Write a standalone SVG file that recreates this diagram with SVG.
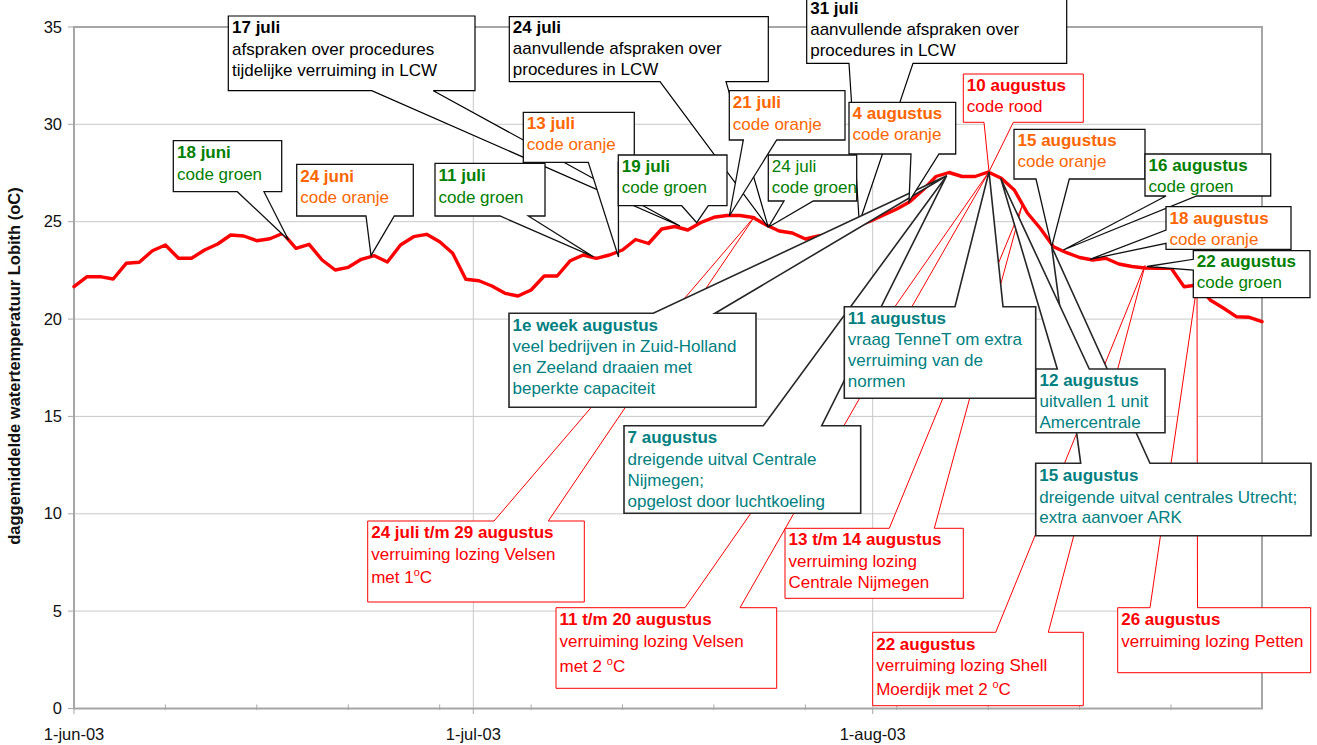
<svg xmlns="http://www.w3.org/2000/svg" width="1317" height="745" viewBox="0 0 1317 745">
<style>
.grid{stroke:#c8c8c8;stroke-width:1;fill:none}
.axis{stroke:#a6a6a6;stroke-width:2;fill:none}
.tick{stroke:#a6a6a6;stroke-width:1}
.lbl{font-family:"Liberation Sans",Arial,sans-serif;font-size:16.5px;fill:#111}
.data{fill:none;stroke:#ff0000;stroke-width:3.4;stroke-linejoin:round;stroke-linecap:round}
.cb{fill:#fff;stroke:#000;stroke-width:1.2;stroke-linejoin:miter}
.cc{fill:#fff;stroke:#111;stroke-width:1.3;stroke-linejoin:miter}
.ct{fill:#fff;stroke:#262626;stroke-width:1.6;stroke-linejoin:miter}
.cr{fill:#fff;stroke:#ff0000;stroke-width:1;stroke-linejoin:miter}
.t{font-family:"Liberation Sans",Arial,sans-serif;font-size:17px}
.b{font-weight:bold}
.k{fill:#000}.g{fill:#008000}.o{fill:#ff6600}.r{fill:#ff0000}.te{fill:#008080}
.sup{font-size:11px}
</style>

<g id="axes">
  <g class="grid">
    <line x1="74" y1="611.1" x2="1262" y2="611.1"/>
    <line x1="74" y1="513.8" x2="1262" y2="513.8"/>
    <line x1="74" y1="416.4" x2="1262" y2="416.4"/>
    <line x1="74" y1="319.1" x2="1262" y2="319.1"/>
    <line x1="74" y1="221.7" x2="1262" y2="221.7"/>
    <line x1="74" y1="124.3" x2="1262" y2="124.3"/>
    <line x1="473.3" y1="27" x2="473.3" y2="708.5"/>
    <line x1="872.7" y1="27" x2="872.7" y2="708.5"/>
  </g>
  <rect class="axis" x="74" y="27" width="1188" height="681.5"/>
  <g class="tick">
    <line x1="68" y1="708.5" x2="74" y2="708.5"/>
    <line x1="68" y1="611.1" x2="74" y2="611.1"/>
    <line x1="68" y1="513.8" x2="74" y2="513.8"/>
    <line x1="68" y1="416.4" x2="74" y2="416.4"/>
    <line x1="68" y1="319.1" x2="74" y2="319.1"/>
    <line x1="68" y1="221.7" x2="74" y2="221.7"/>
    <line x1="68" y1="124.3" x2="74" y2="124.3"/>
    <line x1="68" y1="27" x2="74" y2="27"/>
    <line x1="74" y1="708" x2="74" y2="714"/>
    <line x1="473.3" y1="708" x2="473.3" y2="714"/>
    <line x1="872.7" y1="708" x2="872.7" y2="714"/>
    <line x1="165.4" y1="704.5" x2="165.4" y2="710"/>
    <line x1="256.8" y1="704.5" x2="256.8" y2="710"/>
    <line x1="348.3" y1="704.5" x2="348.3" y2="710"/>
    <line x1="439.7" y1="704.5" x2="439.7" y2="710"/>
    <line x1="531.1" y1="704.5" x2="531.1" y2="710"/>
    <line x1="622.5" y1="704.5" x2="622.5" y2="710"/>
    <line x1="713.9" y1="704.5" x2="713.9" y2="710"/>
    <line x1="805.4" y1="704.5" x2="805.4" y2="710"/>
    <line x1="896.8" y1="704.5" x2="896.8" y2="710"/>
    <line x1="988.2" y1="704.5" x2="988.2" y2="710"/>
    <line x1="1079.6" y1="704.5" x2="1079.6" y2="710"/>
    <line x1="1171" y1="704.5" x2="1171" y2="710"/>
  </g>
  <g class="lbl" text-anchor="end">
    <text x="62" y="714">0</text>
    <text x="62" y="616.6">5</text>
    <text x="62" y="519.3">10</text>
    <text x="62" y="421.9">15</text>
    <text x="62" y="324.6">20</text>
    <text x="62" y="227.2">25</text>
    <text x="62" y="129.8">30</text>
    <text x="62" y="32.5">35</text>
  </g>
  <g class="lbl" text-anchor="middle">
    <text x="74" y="739.5">1-jun-03</text>
    <text x="473.3" y="739.5">1-jul-03</text>
    <text x="872.7" y="739.5">1-aug-03</text>
  </g>
  <text class="lbl" font-weight="bold" font-size="17" text-anchor="middle" transform="translate(19.7,366) rotate(-90)">daggemiddelde watertemperatuur Lobith (oC)</text>
</g>

<g id="series">
  <polyline class="data" points="74,286.7 87.1,276.7 100.1,276.7 113.2,279 126.2,263.3 139.3,262.3 152.4,250.7 165.4,245 178.5,258.3 191.5,258.3 204.6,250 217.7,244 230.7,235 243.8,236 256.8,240.7 269.9,238.7 283,233.3 296,248.3 309.1,244.3 322.1,260 335.2,270 348.3,267.3 361.3,259.3 374.4,255.7 387.4,262 400.5,245 413.6,236.7 426.6,234.3 439.7,241.7 452.7,253.3 465.8,279.3 478.9,280.7 491.9,286 505,293.3 518,296 531.1,290 544.2,276 557.2,276 570.3,260.7 583.3,255 596.4,258.3 609.5,255 622.5,250 635.6,239.5 648.6,243.5 661.7,229 674.8,226.5 687.8,230 700.9,222.5 713.9,217.3 727,215.5 740.1,215.5 753.1,217.5 766.2,225 779.2,231 792.3,233 805.4,239 818.4,236 831.5,234 844.5,231 857.6,226 870.7,221 883.7,215 896.8,209 909.8,201.7 922.9,190 936,176.5 949,172.5 962.1,176.5 975.1,176.5 988.2,172 1001.3,178.3 1014.3,190 1027.4,213 1040.4,228.5 1053.5,246.7 1066.6,252.7 1079.6,257.5 1092.7,260 1105.7,258.3 1118.8,264 1131.9,266.5 1144.9,268 1158,268.3 1171,268 1184.1,286.7 1197.2,285 1210.2,300 1223.3,308 1236.3,316.7 1249.4,317.3 1262,321.7"/>
</g>

<g id="connectors"></g>

<g id="c-17juli">
  <path class="cb" d="M228.3,16 H475 V90.7 H433.3 L680,226 L371.7,90.7 H228.3 Z"/>
  <text class="t k" x="232" y="33.3"><tspan class="b">17 juli</tspan><tspan x="232" y="54.7">afspraken over procedures</tspan><tspan x="232" y="76">tijdelijke verruiming in LCW</tspan></text>
</g>
<g id="c-24juli-lcw">
  <path class="cb" d="M509.3,16.7 H768.3 V81.7 H726 L768.3,227.3 L660,81.7 H509.3 Z"/>
  <text class="t k" x="512.8" y="33.3"><tspan class="b">24 juli</tspan><tspan x="512.8" y="54.3">aanvullende afspraken over</tspan><tspan x="512.8" y="75.3">procedures in LCW</tspan></text>
</g>
<g id="c-31juli">
  <path class="cb" d="M806.7,-4 H1066.7 V63.3 H913 L859.3,222.7 L849,63.3 H806.7 Z"/>
  <text class="t k" x="810.2" y="13.5"><tspan class="b">31 juli</tspan><tspan x="810.2" y="34.5">aanvullende afspraken over</tspan><tspan x="810.2" y="55.5">procedures in LCW</tspan></text>
</g>

<g id="c-velsen1">
  <path class="cr" d="M367.7,521 H494 L755,216 L548.3,521 H584.3 V602 H367.7 Z"/>
  <text class="t r" x="371.2" y="538.3"><tspan class="b">24 juli t/m 29 augustus</tspan><tspan x="371.2" y="560">verruiming lozing Velsen</tspan><tspan x="371.2" y="583.3">met 1</tspan><tspan class="sup" dy="-7">o</tspan><tspan dy="7">C</tspan></text>
</g>
<g id="c-velsen2">
  <path class="cr" d="M556,607.7 H685 L989,171.7 L740,607.7 H776.7 V688.3 H556 Z"/>
  <text class="t r" x="559.5" y="625"><tspan class="b">11 t/m 20 augustus</tspan><tspan x="559.5" y="646.7">verruiming lozing Velsen</tspan><tspan x="559.5" y="671.7">met 2 </tspan><tspan class="sup" dy="-7">o</tspan><tspan dy="7">C</tspan></text>
</g>
<g id="c-nijmegen">
  <path class="cr" d="M785,528.3 H889.3 L1022,206 L934.3,528.3 H963.3 V598.3 H785 Z"/>
  <text class="t r" x="788.5" y="545.3"><tspan class="b">13 t/m 14 augustus</tspan><tspan x="788.5" y="566.7">verruiming lozing</tspan><tspan x="788.5" y="587.5">Centrale Nijmegen</tspan></text>
</g>
<g id="c-shell">
  <path class="cr" d="M872.7,632.3 H995.7 L1145,265.5 L1048.3,632.3 H1083.3 V705.7 H872.7 Z"/>
  <text class="t r" x="876.2" y="650"><tspan class="b">22 augustus</tspan><tspan x="876.2" y="671">verruiming lozing Shell</tspan><tspan x="876.2" y="695">Moerdijk met 2 </tspan><tspan class="sup" dy="-7">o</tspan><tspan dy="7">C</tspan></text>
</g>
<g id="c-petten">
  <path class="cr" d="M1117.7,607.7 H1150 L1197,285 L1197.5,607.7 H1310.7 V672.7 H1117.7 Z"/>
  <text class="t r" x="1121.2" y="625"><tspan class="b">26 augustus</tspan><tspan x="1121.2" y="646.7">verruiming lozing Petten</tspan></text>
</g>

<g id="c-7aug">
  <path class="ct" d="M624,425.7 H763.3 L946.7,175.7 L821.7,425.7 H860.7 V513.3 H624 Z"/>
  <text class="t te" x="627.5" y="443.3"><tspan class="b">7 augustus</tspan><tspan x="627.5" y="464.7">dreigende uitval Centrale</tspan><tspan x="627.5" y="485.7">Nijmegen;</tspan><tspan x="627.5" y="506.7">opgelost door luchtkoeling</tspan></text>
</g>
<g id="c-15aug-utrecht">
  <path class="ct" d="M1035.7,463.3 H1080.7 L1051.7,246.7 L1150,463.3 H1311 V535.7 H1035.7 Z"/>
  <text class="t te" x="1039.2" y="481.3"><tspan class="b">15 augustus</tspan><tspan x="1039.2" y="502.7">dreigende uitval centrales Utrecht;</tspan><tspan x="1039.2" y="523.3">extra aanvoer ARK</tspan></text>
</g>
<g id="c-11aug">
  <path class="ct" d="M844.3,306.7 H955 L989,171.7 L1003,306.7 H1035.7 V398.3 H844.3 Z"/>
  <text class="t te" x="847.8" y="323.5"><tspan class="b">11 augustus</tspan><tspan x="847.8" y="344.8">vraag TenneT om extra</tspan><tspan x="847.8" y="366">verruiming van de</tspan><tspan x="847.8" y="387.3">normen</tspan></text>
</g>
<g id="c-12aug">
  <path class="ct" d="M1036,369 H1057.3 L1000.7,178.3 L1089.3,369 H1165 V432.7 H1036 Z"/>
  <text class="t te" x="1039.5" y="386"><tspan class="b">12 augustus</tspan><tspan x="1039.5" y="407.3">uitvallen 1 unit</tspan><tspan x="1039.5" y="428.3">Amercentrale</tspan></text>
</g>
<g id="c-1eweek">
  <path class="ct" d="M509,313.3 H653.3 L946.7,175.7 L715,313.3 H756 V407.3 H509 Z"/>
  <text class="t te" x="512.5" y="330.5"><tspan class="b">1e week augustus</tspan><tspan x="512.5" y="351.7">veel bedrijven in Zuid-Holland</tspan><tspan x="512.5" y="372.7">en Zeeland draaien met</tspan><tspan x="512.5" y="393.7">beperkte capaciteit</tspan></text>
</g>

<g id="c-18juni">
  <path class="cc" d="M173.3,140.7 H281.7 V191.7 H264 L288.5,240 L237.3,191.7 H173.3 Z"/>
  <text class="t g" x="177" y="158.3"><tspan class="b">18 juni</tspan><tspan x="177" y="179.8">code groen</tspan></text>
</g>
<g id="c-24juni">
  <path class="cc" d="M296.7,164.3 H413.3 V216 H394.3 L371,255.7 L366,216 H296.7 Z"/>
  <text class="t o" x="300.2" y="181.7"><tspan class="b">24 juni</tspan><tspan x="300.2" y="203">code oranje</tspan></text>
</g>
<g id="c-11juli">
  <path class="cc" d="M435,163.3 H545 V216 H528.3 L593.3,256.7 L500,216 H435 Z"/>
  <text class="t g" x="438.5" y="181.3"><tspan class="b">11 juli</tspan><tspan x="438.5" y="202.5">code groen</tspan></text>
</g>
<g id="c-13juli">
  <path class="cc" d="M523.3,112.3 H634.3 V162.3 H618.3 L618.5,257 L588.3,162.3 H523.3 Z"/>
  <text class="t o" x="526.8" y="128.8"><tspan class="b">13 juli</tspan><tspan x="526.8" y="150">code oranje</tspan></text>
</g>
<g id="c-19juli">
  <path class="cc" d="M618.3,155 H727 V205.7 H708.3 L696.7,222.7 L681.7,205.7 H618.3 Z"/>
  <text class="t g" x="621.8" y="172"><tspan class="b">19 juli</tspan><tspan x="621.8" y="193.3">code groen</tspan></text>
</g>
<g id="c-21juli">
  <path class="cc" d="M729.3,90.7 H845 V140 H776.7 L729.3,216 L743.3,140 H729.3 Z"/>
  <text class="t o" x="732.8" y="108.3"><tspan class="b">21 juli</tspan><tspan x="732.8" y="129.5">code oranje</tspan></text>
</g>
<g id="c-24juli-groen">
  <path class="cc" d="M768.3,155 H856.7 V201 H813.3 L768.3,227.3 L784,201 H768.3 Z"/>
  <text class="t g" x="771.8" y="172"><tspan>24 juli</tspan><tspan x="771.8" y="193">code groen</tspan></text>
</g>
<g id="c-4aug">
  <path class="cc" d="M849,102.3 H955.7 V154 H939 L909,201.7 L911,154 H849 Z"/>
  <text class="t o" x="852.5" y="119"><tspan class="b">4 augustus</tspan><tspan x="852.5" y="140.3">code oranje</tspan></text>
</g>
<g id="c-10aug">
  <path class="cr" d="M963.3,74 H1083.3 V122.3 H1013.3 L989,171.7 L984,122.3 H963.3 Z"/>
  <text class="t r" x="966.8" y="90.5"><tspan class="b">10 augustus</tspan><tspan x="966.8" y="111.7">code rood</tspan></text>
</g>
<g id="c-15aug">
  <path class="cc" d="M1014,129.3 H1145 V179 H1069.3 L1051.7,246.7 L1036,179 H1014 Z"/>
  <text class="t o" x="1017.5" y="146"><tspan class="b">15 augustus</tspan><tspan x="1017.5" y="167">code oranje</tspan></text>
</g>
<g id="c-16aug">
  <path class="cc" d="M1145,154 H1270.7 V196 H1196.7 L1063.3,250 L1166,196 H1145 Z"/>
  <text class="t g" x="1148.5" y="170.7"><tspan class="b">16 augustus</tspan><tspan x="1148.5" y="191.7">code groen</tspan></text>
</g>
<g id="c-18aug">
  <path class="cc" d="M1166,206.7 H1291 V249.3 H1166 V243.3 L1090,259.3 L1166,230 Z"/>
  <text class="t o" x="1169.5" y="223.5"><tspan class="b">18 augustus</tspan><tspan x="1169.5" y="245">code oranje</tspan></text>
</g>
<g id="c-22aug">
  <path class="cc" d="M1193.3,250.7 H1310 V297.7 H1193.3 V270 L1147,266.5 L1193.3,259.3 Z"/>
  <text class="t g" x="1196.8" y="267"><tspan class="b">22 augustus</tspan><tspan x="1196.8" y="288.3">code groen</tspan></text>
</g>
</svg>
